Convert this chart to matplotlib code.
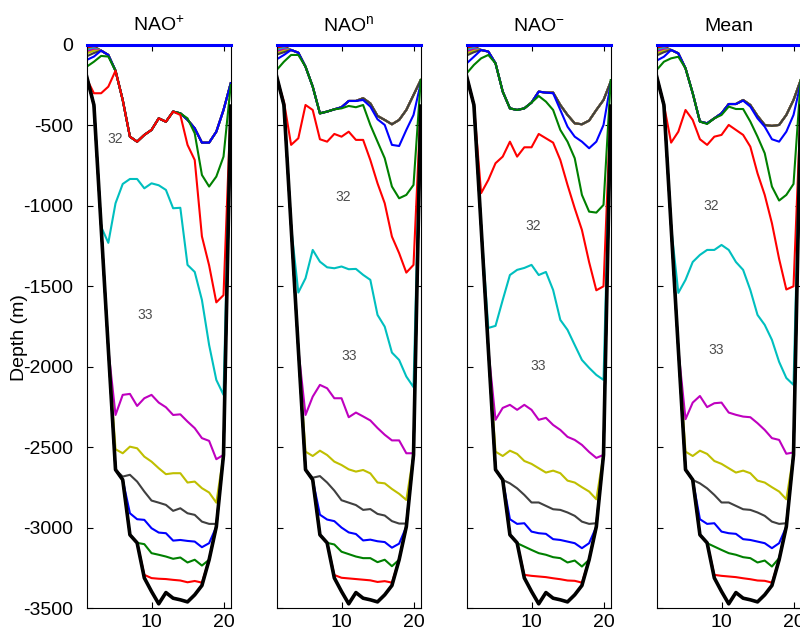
import matplotlib.pyplot as plt
import numpy as np

plt.rcParams['font.family'] = ['Liberation Sans', 'DejaVu Sans']
plt.rcParams['mathtext.fontset'] = 'custom'
plt.rcParams['mathtext.rm'] = 'Liberation Sans'
plt.rcParams['mathtext.it'] = 'Liberation Sans'
plt.rcParams['axes.unicode_minus'] = False

# station number along the section
stations = np.arange(1, 22)

# sea floor depth (m), same section for all panels
bathy = [-197, -373, -1130, -1890, -2640, -2703, -3045, -3095, -3313, -3397, -3474,
         -3404, -3439, -3449, -3462, -3418, -3360, -3200, -2994, -2548, -380]

titles = ['NAO$^{+}$', 'NAO$^{n}$', 'NAO$^{-}$', 'Mean']

# the thin near-surface isopycnals at the first two stations, they join the gray one after that
surface_heads = [[-10, -8], [-20, -14], [-30, -20], [-40, -28], [-52, -36]]

# isopycnal depths per panel, top to bottom (gray, blue, green, red=32, cyan=33, magenta,
# yellow, gray, blue, green, red). None means the isopycnal sits on the sea floor.
nao_pos = [
    [-70, -50, -35, -62, -160, -342, -570, -601, -559, -528, -456, -477, -414, -425, -465, -518, -607, -607, -539, -404, -238],
    [-93, -72, -35, -62, -160, -342, -570, -601, -559, -528, -456, -477, -414, -425, -465, -518, -607, -607, -539, -404, -238],
    [-135, -104, -68, -72, -160, -342, -570, -601, -559, -528, -456, -477, -414, -425, -456, -549, -808, -880, -818, -694, -249],
    [-210, -300, -300, -259, -160, -342, -570, -601, -559, -528, -456, -477, -414, -435, -621, -715, -1190, -1370, -1600, -1555, -380],
    [-197, -373, -1130, -1230, -984, -864, -833, -833, -891, -860, -872, -901, -1015, -1012, -1367, -1411, -1585, -1865, -2082, -2175, -380],
    [None, None, None, None, -2300, -2175, -2169, -2244, -2196, -2175, -2223, -2252, -2300, -2296, -2341, -2382, -2444, -2461, -2575, None, None],
    [None, None, None, None, -2513, -2538, -2497, -2507, -2559, -2590, -2631, -2668, -2662, -2662, -2720, -2714, -2755, -2782, -2845, None, None],
    [None, None, None, None, None, -2683, -2672, -2714, -2776, -2832, -2845, -2859, -2896, -2880, -2911, -2921, -2963, -2977, -2977, None, None],
    [None, None, None, None, None, None, -2911, -2948, -2952, -3004, -3031, -3035, -3081, -3077, -3083, -3087, -3122, -3097, None, None, None],
    [None, None, None, None, None, None, None, None, -3103, -3159, -3169, -3180, -3194, -3186, -3217, -3200, -3236, None, None, None, None],
    [None, None, None, None, None, None, None, None, -3294, -3314, -3318, -3320, -3325, -3329, -3340, -3332, -3342, None, None, None, None],
]

nao_neu = [
    [-60, -45, -31, -48, -135, -259, -425, -414, -400, -387, -348, -348, -331, -363, -441, -466, -493, -466, -404, -311, -218],
    [-89, -62, -31, -48, -135, -259, -425, -414, -400, -387, -348, -348, -342, -383, -462, -497, -621, -628, -528, -435, -238],
    [-155, -104, -62, -62, -135, -259, -425, -414, -400, -394, -379, -387, -373, -497, -601, -704, -880, -953, -932, -870, -218],
    [-207, -352, -621, -580, -373, -404, -586, -601, -553, -570, -539, -590, -590, -715, -860, -984, -1191, -1294, -1415, -1367, -380],
    [-197, -373, -1130, -1539, -1450, -1274, -1347, -1382, -1388, -1377, -1394, -1392, -1429, -1460, -1678, -1751, -1912, -1958, -2061, -2127, -380],
    [None, None, None, None, -2300, -2186, -2113, -2134, -2196, -2196, -2314, -2285, -2309, -2334, -2381, -2423, -2458, -2458, -2538, -2538, None],
    [None, None, None, None, -2528, -2555, -2522, -2549, -2590, -2611, -2638, -2652, -2642, -2663, -2720, -2725, -2760, -2790, -2828, None, None],
    [None, None, None, None, None, -2690, -2680, -2720, -2770, -2830, -2845, -2860, -2890, -2885, -2915, -2925, -2960, -2975, -2975, None, None],
    [None, None, None, None, None, None, -2920, -2950, -2960, -3000, -3030, -3040, -3080, -3075, -3085, -3090, -3125, -3100, None, None, None],
    [None, None, None, None, None, None, None, None, -3105, -3150, -3165, -3180, -3190, -3190, -3215, -3200, -3240, None, None, None, None],
    [None, None, None, None, None, None, None, None, -3295, -3312, -3316, -3320, -3324, -3328, -3338, -3333, -3342, None, None, None, None],
]

nao_neg = [
    [-65, -45, -31, -41, -114, -290, -394, -404, -394, -358, -290, -296, -296, -373, -435, -487, -493, -470, -404, -342, -228],
    [-114, -73, -31, -41, -114, -290, -394, -404, -394, -358, -290, -296, -300, -404, -508, -570, -601, -642, -601, -497, -238],
    [-176, -124, -83, -62, -114, -290, -394, -404, -394, -358, -317, -352, -404, -528, -601, -704, -932, -1036, -1042, -994, -218],
    [-207, -373, -921, -839, -735, -694, -601, -694, -636, -636, -553, -580, -607, -715, -870, -1015, -1150, -1350, -1525, -1500, -380],
    [-197, -373, -1130, -1759, -1746, -1585, -1430, -1398, -1386, -1367, -1430, -1411, -1523, -1709, -1771, -1865, -1958, -2007, -2051, -2082, -380],
    [None, None, None, None, -2330, -2256, -2237, -2268, -2237, -2268, -2330, -2318, -2362, -2393, -2436, -2455, -2486, -2530, -2567, None, None],
    [None, None, None, None, -2528, -2555, -2522, -2542, -2586, -2604, -2631, -2658, -2646, -2662, -2708, -2720, -2749, -2776, -2824, None, None],
    [None, None, None, None, None, -2704, -2725, -2756, -2797, -2844, -2844, -2865, -2886, -2890, -2906, -2927, -2963, -2977, -2973, None, None],
    [None, None, None, None, None, None, -2948, -2977, -2973, -3025, -3035, -3039, -3072, -3077, -3087, -3097, -3128, -3097, None, None, None],
    [None, None, None, None, None, None, None, -3097, -3118, -3139, -3159, -3169, -3184, -3190, -3217, -3205, -3242, None, None, None, None],
    [None, None, None, None, None, None, None, None, -3294, -3300, -3304, -3308, -3315, -3321, -3329, -3331, -3342, None, None, None, None],
]

nao_mean = [
    [-65, -45, -31, -52, -145, -300, -476, -487, -456, -425, -367, -367, -342, -373, -441, -497, -503, -497, -435, -342, -218],
    [-97, -73, -31, -52, -145, -300, -476, -487, -456, -425, -367, -367, -346, -383, -456, -508, -586, -601, -539, -435, -238],
    [-155, -104, -83, -73, -145, -300, -476, -491, -456, -435, -383, -398, -398, -476, -570, -673, -880, -967, -932, -864, -218],
    [-197, -373, -607, -539, -404, -466, -586, -621, -570, -559, -497, -528, -559, -632, -798, -932, -1108, -1330, -1520, -1500, -380],
    [-197, -373, -1130, -1541, -1460, -1349, -1305, -1274, -1274, -1243, -1274, -1349, -1398, -1523, -1678, -1740, -1833, -1970, -2070, -2113, -380],
    [None, None, None, None, -2326, -2223, -2182, -2251, -2227, -2223, -2285, -2299, -2310, -2314, -2351, -2393, -2444, -2455, -2541, -2533, None],
    [None, None, None, None, -2528, -2555, -2522, -2542, -2586, -2604, -2631, -2658, -2646, -2662, -2708, -2720, -2749, -2776, -2824, None, None],
    [None, None, None, None, None, -2704, -2725, -2756, -2797, -2844, -2844, -2865, -2886, -2890, -2906, -2927, -2963, -2977, -2973, None, None],
    [None, None, None, None, None, None, -2948, -2977, -2973, -3025, -3035, -3039, -3072, -3077, -3087, -3097, -3128, -3097, None, None, None],
    [None, None, None, None, None, None, None, -3097, -3118, -3139, -3159, -3169, -3184, -3190, -3217, -3205, -3242, -3190, None, None, None],
    [None, None, None, None, None, None, None, None, -3294, -3300, -3304, -3308, -3315, -3321, -3329, -3331, -3342, None, None, None, None],
]

panels = [nao_pos, nao_neu, nao_neg, nao_mean]

# positions of the "32" and "33" contour labels (station, depth)
label32 = [(4.9, -584), (10.3, -945), (10.2, -1125), (8.6, -1000)]
label33 = [(9.1, -1678), (11.0, -1931), (10.9, -1995), (9.3, -1896)]

# old matlab line colour order
colors = ['#0000ff', '#008000', '#ff0000', '#00bfbf', '#bf00bf', '#bfbf00', '#404040']

#######################################################


def on_floor(vals):
    return np.array([bathy[i] if v is None else v for i, v in enumerate(vals)], dtype=float)


fig = plt.figure(figsize=(8, 6.3), dpi=100)

for k, lines in enumerate(panels):
    ax = fig.add_axes([0.1084 + k * 0.2375, 0.0349, 0.18, 0.8937])

    # near-surface isopycnals (lines 2..6 of the colour cycle)
    for j, head in enumerate(surface_heads):
        vals = head + list(lines[0][2:])
        ax.plot(stations, vals, color=colors[j + 1], lw=1.5)
    # the rest, gray first so the cycle keeps going
    for j, vals in enumerate(lines):
        ax.plot(stations, on_floor(vals), color=colors[(j + 6) % 7], lw=1.5)
    # bottom-most cyan isopycnal lies almost on the floor
    ax.plot(stations, bathy, color=colors[3], lw=1.5)
    ax.plot(stations, bathy, color='k', lw=2.6, zorder=5)
    # surface line
    ax.plot(stations, np.zeros(len(stations)), color=colors[0], lw=2.2, zorder=6, clip_on=False)

    ax.text(label32[k][0], label32[k][1], '32', color='0.3', fontsize=10, ha='center', va='center')
    ax.text(label33[k][0], label33[k][1], '33', color='0.3', fontsize=10, ha='center', va='center')

    ax.set_xlim(1, 21)
    ax.set_ylim(-3500, 0)
    ax.set_xticks([10, 20])
    ax.set_yticks(np.arange(-3500, 1, 500))
    ax.tick_params(direction='in', top=True, right=True, length=4, labelsize=14, width=0.8)
    ax.tick_params(axis='y', pad=10)
    ax.tick_params(axis='x', pad=4)
    for s in ax.spines.values():
        s.set_linewidth(0.8)
    ax.set_title(titles[k], fontsize=14, pad=10)
    if k == 0:
        ax.set_ylabel('Depth (m)', fontsize=14)
        ax.yaxis.set_label_coords(-0.41, 0.48)
    else:
        ax.set_yticklabels([])

fig.savefig('out.png', dpi=100)
